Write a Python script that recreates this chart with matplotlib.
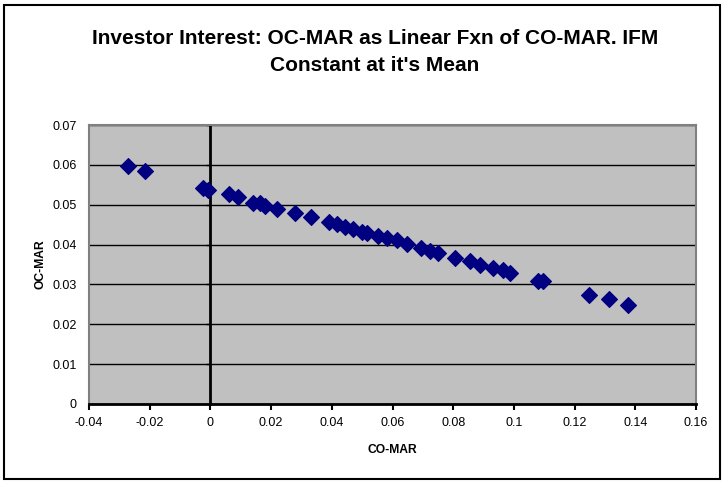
import matplotlib.pyplot as plt
from matplotlib.patches import Rectangle

plt.rcParams["font.family"] = ["Liberation Sans", "DejaVu Sans"]

# CO-MAR (x) and OC-MAR (y)
co_mar = [
    -0.0270, -0.0217, -0.0023, -0.0007, 0.0062, 0.0092, 0.0139, 0.0163,
    0.0180, 0.0220, 0.0279, 0.0332, 0.0392, 0.0416, 0.0444, 0.0471,
    0.0499, 0.0515, 0.0553, 0.0581, 0.0614, 0.0647, 0.0694, 0.0724,
    0.0751, 0.0806, 0.0855, 0.0888, 0.0932, 0.0965, 0.0987, 0.1080,
    0.1097, 0.1247, 0.1313, 0.1375,
]
oc_mar = [
    0.0596, 0.0584, 0.0541, 0.0537, 0.0526, 0.0520, 0.0505, 0.0504,
    0.0498, 0.0489, 0.0478, 0.0468, 0.0457, 0.0452, 0.0445, 0.0438,
    0.0432, 0.0428, 0.0422, 0.0416, 0.0411, 0.0401, 0.0391, 0.0384,
    0.0378, 0.0366, 0.0359, 0.0350, 0.0342, 0.0336, 0.0329, 0.0309,
    0.0309, 0.0273, 0.0263, 0.0248,
]

x_ticks = [-0.04, -0.02, 0, 0.02, 0.04, 0.06, 0.08, 0.1, 0.12, 0.14, 0.16]
x_labels = ["-0.04", "-0.02", "0", "0.02", "0.04", "0.06", "0.08", "0.1", "0.12", "0.14", "0.16"]
y_ticks = [0, 0.01, 0.02, 0.03, 0.04, 0.05, 0.06, 0.07]
y_labels = ["0", "0.01", "0.02", "0.03", "0.04", "0.05", "0.06", "0.07"]

title = "Investor Interest: OC-MAR as Linear Fxn of CO-MAR. IFM\nConstant at it's Mean"

W, H = 728, 483
fig = plt.figure(figsize=(W / 100, H / 100), dpi=100)
fig.patch.set_facecolor("white")

# chart area border
fig.add_artist(Rectangle((4 / W, 4 / H), 716 / W, 474 / H, transform=fig.transFigure,
                         fill=False, edgecolor="black", linewidth=1.5))

ax = fig.add_axes([89 / W, 1 - 404 / H, 607 / W, 279 / H])
ax.set_facecolor("#C0C0C0")
ax.set_xlim(-0.04, 0.16)
ax.set_ylim(0, 0.07)

ax.yaxis.grid(True, color="black", linewidth=1)
ax.set_axisbelow(True)

ax.scatter(co_mar, oc_mar, marker="D", s=66, color="#000080", edgecolors="#000080",
           linewidths=0.8, zorder=3)

for side in ["top", "left", "right"]:
    ax.spines[side].set_color("#808080")
    ax.spines[side].set_linewidth(1.5)
ax.spines["bottom"].set_color("black")
ax.spines["bottom"].set_linewidth(2)

ax.set_xticks(x_ticks)
ax.set_xticklabels(x_labels, fontsize=9)
ax.tick_params(axis="x", direction="out", length=4, width=1.5, color="black", pad=5)

ax.set_yticks(y_ticks)
ax.set_yticklabels(y_labels, fontsize=9)
ax.tick_params(axis="y", length=0, pad=9)

# value axis crosses at x = 0
x0 = (0 - ax.get_xlim()[0]) / (ax.get_xlim()[1] - ax.get_xlim()[0])
sec = ax.secondary_yaxis(x0)
sec.spines["left"].set_color("black")
sec.spines["left"].set_linewidth(2)
sec.set_yticks(y_ticks)
sec.set_yticklabels([])
sec.tick_params(axis="y", direction="out", length=3, width=1, color="black")

ax.set_xlabel("CO-MAR", fontsize=8.7, fontweight="bold", labelpad=11)
ax.set_ylabel("OC-MAR", fontsize=8.7, fontweight="bold", labelpad=4)

fig.text(375 / W, 1 - 52 / H, title, ha="center", va="center", fontsize=15,
         fontweight="bold", linespacing=1.55)

fig.savefig("out.png", dpi=100)
